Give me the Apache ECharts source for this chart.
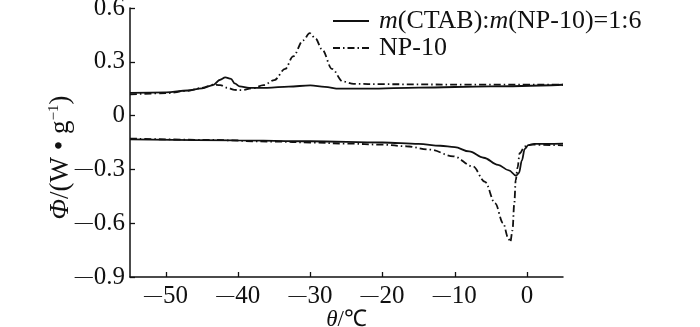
<!DOCTYPE html>
<html>
<head>
<meta charset="utf-8">
<script src="https://cdn.jsdelivr.net/npm/echarts@6/dist/echarts.min.js"></script>
<style>
  html, body { margin: 0; padding: 0; background: #fff; }
  #chart { width: 700px; height: 327px; }
</style>
</head>
<body>
<div id="chart"></div>
<script>
// DSC curves: heat flow Φ (W·g⁻¹) against temperature θ (℃)
const xTicks = [-50, -40, -30, -20, -10, 0];

// m(CTAB):m(NP-10)=1:6, heating branch
const mixHeatT = [-55, -50, -47, -45, -43.5, -42.5, -41.8, -41, -40.5, -39.8, -38.5, -36, -33, -30, -28, -26, -22, -15, -5, 5];
const mixHeatV = [0.127, 0.130, 0.140, 0.152, 0.170, 0.200, 0.213, 0.205, 0.180, 0.163, 0.155, 0.155, 0.162, 0.168, 0.160, 0.150, 0.150, 0.156, 0.163, 0.172];
// m(CTAB):m(NP-10)=1:6, cooling branch
const mixCoolT = [-55, -40, -30, -20, -15, -12, -10, -8, -6, -4, -2.5, -1.5, -1.1, -0.7, -0.3, 0.2, 1, 5];
const mixCoolV = [-0.133, -0.138, -0.143, -0.150, -0.158, -0.168, -0.176, -0.200, -0.235, -0.275, -0.305, -0.335, -0.320, -0.250, -0.185, -0.165, -0.158, -0.156];

// NP-10, heating branch
const npHeatT = [-55, -50, -47, -45, -43.5, -42.5, -41.5, -40.5, -39.5, -38, -36.5, -35, -33.5, -32.4, -31, -30.1, -29.3, -28.4, -27, -25.5, -24, -20, -10, 5];
const npHeatV = [0.118, 0.125, 0.138, 0.155, 0.172, 0.170, 0.155, 0.143, 0.142, 0.152, 0.170, 0.198, 0.260, 0.330, 0.420, 0.460, 0.430, 0.370, 0.260, 0.190, 0.177, 0.175, 0.173, 0.172];
// NP-10, cooling branch
const npCoolT = [-55, -45, -35, -30, -25, -20, -16.7, -13.4, -10.2, -7.5, -5.8, -4.4, -3.3, -2.6, -2.3, -2.0, -1.75, -1.55, -1.3, -1.0, -0.3, 0.5, 5];
const npCoolV = [-0.128, -0.135, -0.145, -0.150, -0.156, -0.162, -0.171, -0.190, -0.227, -0.283, -0.370, -0.490, -0.600, -0.680, -0.705, -0.640, -0.490, -0.360, -0.290, -0.210, -0.172, -0.162, -0.166];

const mixName = 'mix';
const npName = 'NP-10';

const zip = (t, v) => t.map((x, i) => [x, v[i]]);

const FONT = "'Liberation Serif', 'Times New Roman', serif";
const INK = '#111';
const dashDot = [7, 3, 1.5, 3];

function lineSeries(name, data, dashed) {
  return {
    type: 'line',
    name: name,
    data: data,
    showSymbol: false,
    symbol: 'none',
    smooth: 0.35,
    smoothMonotone: 'x',
    lineStyle: { color: INK, width: 1.8, type: dashed ? dashDot : 'solid' },
    itemStyle: { color: INK },
    animation: false
  };
}

function tickText(v) {
  if (Math.abs(v) < 1e-9) return '0';
  const s = Math.abs(v) % 1 === 0 ? String(Math.abs(v)) : Math.abs(v).toFixed(1);
  return v < 0 ? '{m|\u2014}' + s : s;
}

const minusRich = { m: { fontFamily: FONT, fontSize: 18, color: INK, padding: [0, 1, 0, 0] } };

const chart = echarts.init(document.getElementById('chart'), null, { renderer: 'canvas' });
chart.setOption({
  backgroundColor: '#fff',
  animation: false,
  grid: { left: 130, right: 137, top: 8, bottom: 50, containLabel: false, outerBoundsMode: 'none' },
  legend: {
    orient: 'vertical',
    left: 327,
    top: 3,
    itemWidth: 36,
    itemHeight: 14,
    itemGap: 1,
    data: [mixName, npName],
    itemStyle: { opacity: 0 },
    formatter: function (n) {
      return n === mixName ? '{i|m}(CTAB):{i|m}(NP-10)=1:6' : 'NP-10';
    },
    textStyle: {
      fontFamily: FONT,
      fontSize: 26,
      color: INK,
      lineHeight: 25,
      padding: [0, 0, 0, 5],
      rich: {
        i: { fontFamily: FONT, fontSize: 26, fontStyle: 'italic', color: INK, lineHeight: 25 }
      }
    }
  },
  xAxis: {
    type: 'value',
    min: -55,
    max: 5,
    splitLine: { show: false },
    axisLine: { show: true, onZero: false, lineStyle: { color: INK, width: 1.5 } },
    axisTick: { show: true, inside: true, length: 5, customValues: xTicks, lineStyle: { color: INK, width: 1.3 } },
    axisLabel: {
      customValues: xTicks,
      margin: 7,
      fontFamily: FONT,
      fontSize: 25,
      color: INK,
      formatter: tickText,
      rich: minusRich
    },
    name: '{i|θ}/℃',
    nameLocation: 'middle',
    nameGap: 31,
    nameMoveOverlap: false,
    nameTextStyle: {
      fontFamily: FONT, fontSize: 23, color: INK, lineHeight: 23,
      rich: { i: { fontFamily: FONT, fontSize: 23, fontStyle: 'italic', color: INK, lineHeight: 23 } }
    }
  },
  yAxis: {
    type: 'value',
    min: -0.9,
    max: 0.6,
    interval: 0.3,
    splitLine: { show: false },
    axisLine: { show: true, onZero: false, lineStyle: { color: INK, width: 1.5 } },
    axisTick: { show: true, inside: true, length: 5, lineStyle: { color: INK, width: 1.3 } },
    axisLabel: {
      margin: 5,
      fontFamily: FONT,
      fontSize: 25,
      color: INK,
      formatter: tickText,
      rich: minusRich
    },
    name: '{i|Φ}/(W • g{s|−1})',
    nameLocation: 'middle',
    nameGap: 56,
    nameMoveOverlap: false,
    nameTextStyle: {
      fontFamily: FONT, fontSize: 27, color: INK,
      padding: [0, 30, 0, 0],
      rich: {
        i: { fontFamily: FONT, fontSize: 27, fontStyle: 'italic', color: INK },
        s: { fontFamily: FONT, fontSize: 15, color: INK, verticalAlign: 'top' }
      }
    }
  },
  series: [
    lineSeries(mixName, zip(mixHeatT, mixHeatV), false),
    lineSeries(mixName, zip(mixCoolT, mixCoolV), false),
    lineSeries(npName, zip(npHeatT, npHeatV), true),
    lineSeries(npName, zip(npCoolT, npCoolV), true)
  ]
});
</script>
</body>
</html>
